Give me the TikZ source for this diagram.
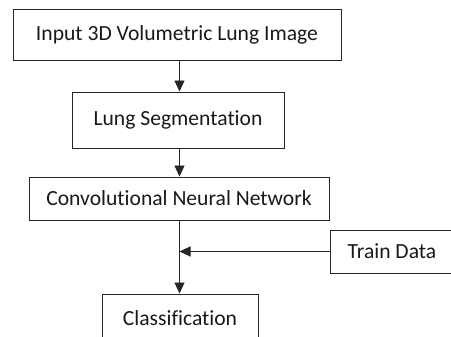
\documentclass[tikz,border=0pt]{standalone}
\usepackage{fontspec}
\setmainfont{Carlito}[Ligatures=NoCommon]
\usetikzlibrary{arrows.meta}
\begin{document}
\begin{tikzpicture}[x=1pt,y=-1pt,
  stage/.style={draw=black!85, line width=0.9pt, inner sep=0pt, text=black!90,
    font=\fontsize{21.6}{25}\selectfont},
  flow/.style={draw=black!85, line width=0.9pt,
    -{Triangle[width=10pt,length=11pt]}}]
  \useasboundingbox (0,0) rectangle (451,337);
  \clip (0,0) rectangle (451,337);
  % processing stages
  \node[stage, minimum width=328pt, minimum height=51pt] (input) at (177,34.5) {Input 3D Volumetric Lung Image};
  \node[stage, minimum width=212pt, minimum height=56pt] (seg) at (178,120) {Lung Segmentation};
  \node[stage, minimum width=300pt, minimum height=43pt] (cnn) at (179,198.5) {Convolutional Neural Network};
  \node[stage, minimum width=124pt, minimum height=43pt] (train) at (392,251.5) {Train Data};
  \node[stage, minimum width=156pt, minimum height=48pt] (cls) at (180,318) {Classification};
  % vertical spine of the flow
  \coordinate (spine) at (179.5,0);
  \draw[flow] (input.south -| spine) -- (seg.north -| spine);
  \draw[flow] (seg.south -| spine) -- (cnn.north -| spine);
  \draw[flow] (cnn.south -| spine) -- (cls.north -| spine);
  \draw[flow] (train.west) -- (train.west -| spine);
\end{tikzpicture}
\end{document}
